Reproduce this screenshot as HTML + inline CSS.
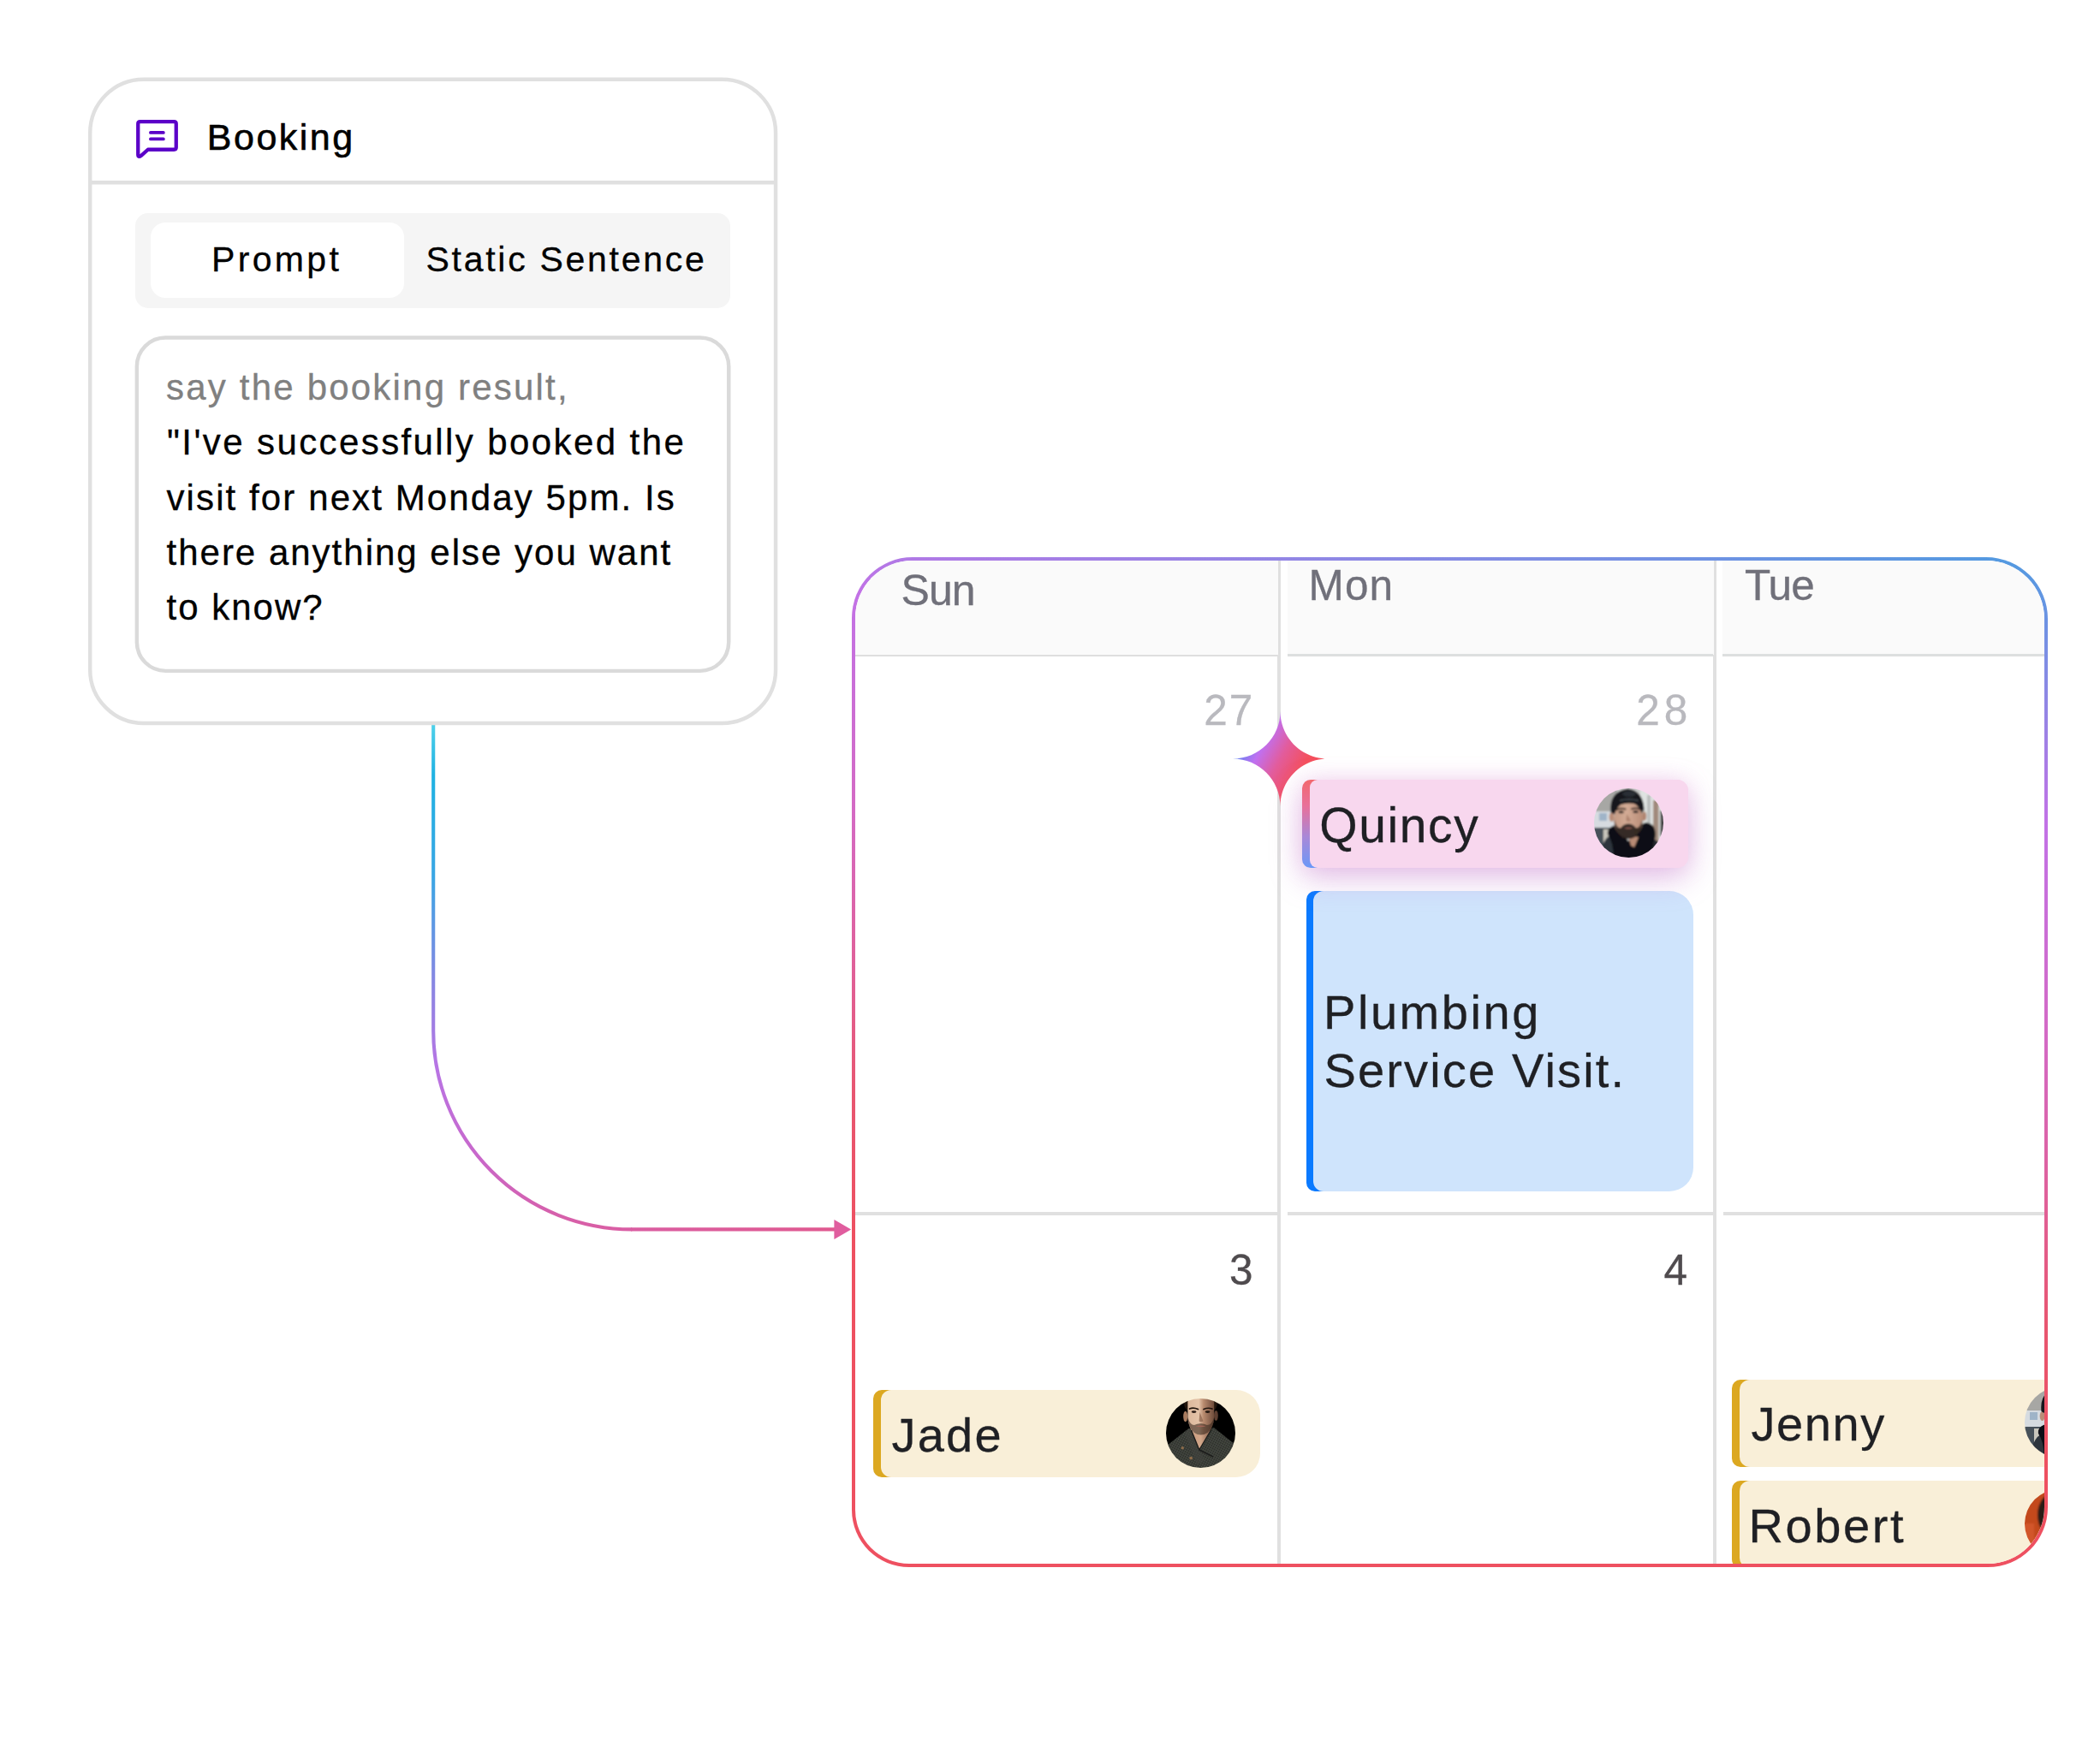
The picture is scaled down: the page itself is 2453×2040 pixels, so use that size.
<!DOCTYPE html><html><head><meta charset='utf-8'><title>Booking</title><style>
*{box-sizing:border-box;margin:0;padding:0}
html,body{width:2453px;height:2040px;background:#fff;overflow:hidden}
body{position:relative;font-family:'Liberation Sans', sans-serif}
.t{position:absolute;white-space:nowrap;-webkit-text-stroke:.3px currentColor}
.a{position:absolute}
.tabs{left:158px;top:248.5px;width:695px;height:111.5px;border-radius:15px;background:#f5f5f5}
.tab{left:175.7px;top:260px;width:296.3px;height:88px;border-radius:17px;background:#fff}
.cal{left:995px;top:651px;width:1397px;height:1180px;border-radius:71px 72px 70px 67px;border:4px solid transparent;
 background:linear-gradient(#fff,#fff) padding-box,linear-gradient(191deg,#4f9be0 0%,#7d8ee4 8%,#c272e6 21.5%,#d46ac4 39%,#e06098 52%,#e85670 62%,#ee5060 74%,#ee5060 100%) border-box;overflow:hidden}
.hd{background:#fafafa;top:0;height:110px}
.ln{background:#e0e0e0}
.vd{background:#e0e0e0;top:0;height:1180px;width:4px}
.ev>b{position:absolute;left:0;top:0;bottom:0;width:24px;border-radius:10px 0 0 10px}
.ev>i{position:absolute;left:8.6px;top:0;right:0;bottom:0;border-radius:12px 28px 28px 12px}
.gold>b{background:#dca821}.gold>i{background:#f9efd8}
.av{position:absolute;width:81.5px;height:81.5px;border-radius:50%;overflow:hidden}
</style></head><body>
<svg class="a" style="left:0;top:0" width="2453" height="2040" viewBox="0 0 2453 2040">
<defs><linearGradient id="cg" gradientUnits="userSpaceOnUse" x1="506" y1="847" x2="506" y2="1436">
<stop offset="0" stop-color="#4fd0ea"/><stop offset="0.1" stop-color="#1fb2e2"/><stop offset="0.3" stop-color="#3aa6e4"/><stop offset="0.5" stop-color="#8488e2"/><stop offset="0.68" stop-color="#b874e4"/><stop offset="0.85" stop-color="#c868cc"/><stop offset="1" stop-color="#d95ea4"/></linearGradient>
<linearGradient id="cg2" gradientUnits="userSpaceOnUse" x1="700" y1="0" x2="994" y2="0"><stop offset="0" stop-color="#d95ea4"/><stop offset="1" stop-color="#e0588e"/></linearGradient></defs>
<path d="M506.2 845 V1204 A232 232 0 0 0 738.2 1436.4" fill="none" stroke="url(#cg)" stroke-width="4.1"/>
<path d="M737 1436.4 H976" fill="none" stroke="url(#cg2)" stroke-width="4.1"/>
<path d="M974.4 1424.9 L994.2 1436.5 L974.4 1448.1 Z" fill="#e05d9e"/>
</svg>
<svg class="a" style="left:0;top:0" width="1000" height="900" viewBox="0 0 1000 900">
<rect x="105.23" y="92.73" width="800.84" height="752.24" rx="62.5" fill="#fff" stroke="#e0e0e0" stroke-width="4.45"/>
<path d="M105.2 213.3 H906" stroke="#e0e0e0" stroke-width="4.45"/>
<rect x="159.85" y="394.55" width="691.4" height="389.3" rx="33.5" fill="#fff" stroke="#dadada" stroke-width="4.45"/>
</svg>
<svg class="a" style="left:157px;top:138px" width="53" height="49" viewBox="0 0 53 49">
<path d="M6.75 4.05 H46.25 Q48.75 4.05 48.75 6.55 V34.25 Q48.75 36.75 46.25 36.75 H15.8 L7.9 43.8 Q4.25 46.6 4.25 42.4 V6.55 Q4.25 4.05 6.75 4.05 Z" fill="none" stroke="#5b00c8" stroke-width="4.3" stroke-linejoin="round"/>
<path d="M18.9 16.9 H33.9 M18.9 24.4 H33.9" stroke="#5b00c8" stroke-width="3.7" stroke-linecap="round"/></svg>
<div class="t" style="left:241.8px;top:139.40px;font-size:43px;line-height:43px;color:#000;letter-spacing:2.5px;font-weight:500;-webkit-text-stroke:0.6px #000;">Booking</div>
<div class="a tabs"></div><div class="a tab"></div>
<div class="t" style="left:247px;top:282.69px;font-size:41px;line-height:41px;color:#000;letter-spacing:3.35px;font-weight:400;">Prompt</div>
<div class="t" style="left:497.5px;top:282.89px;font-size:41px;line-height:41px;color:#000;letter-spacing:2.72px;font-weight:400;">Static Sentence</div>
<div class="t" style="left:194px;top:432.25px;font-size:42px;line-height:42px;color:#808080;letter-spacing:2.2px;font-weight:400;">say the booking result,</div>
<div class="t" style="left:195px;top:496.45px;font-size:42px;line-height:42px;color:#000;letter-spacing:2.4px;font-weight:400;">&quot;I've successfully booked the</div>
<div class="t" style="left:194.5px;top:560.65px;font-size:42px;line-height:42px;color:#000;letter-spacing:2.1px;font-weight:400;">visit for next Monday 5pm. Is</div>
<div class="t" style="left:194.5px;top:624.85px;font-size:42px;line-height:42px;color:#000;letter-spacing:2.0px;font-weight:400;">there anything else you want</div>
<div class="t" style="left:194.5px;top:689.05px;font-size:42px;line-height:42px;color:#000;letter-spacing:2.0px;font-weight:400;">to know?</div>
<div class="a cal">
<div class="a hd" style="left:0;width:494px"></div>
<div class="a hd" style="left:505px;width:497px"></div>
<div class="a hd" style="left:1013px;width:400px"></div>
<div class="a ln" style="left:0;top:110px;width:493px;height:2px;background:#dedede"></div>
<div class="a ln" style="left:505px;top:109px;width:497px;height:3px;background:#dddfdf"></div>
<div class="a ln" style="left:1013px;top:109px;width:400px;height:3px;background:#dddfdf"></div>
<div class="a ln" style="left:0;top:761px;width:493px;height:4px"></div>
<div class="a ln" style="left:505px;top:761px;width:497px;height:4px"></div>
<div class="a ln" style="left:1014px;top:761px;width:400px;height:4px"></div>
<div class="a vd" style="left:493px"></div><div class="a vd" style="left:1002px"></div>
<div class="a" style="left:493px;top:0;width:1px;height:110px;background:#fafafa"></div><div class="a" style="left:1002px;top:0;width:1px;height:110px;background:#fafafa"></div>
<div class="t" style="left:53.5px;top:9.88px;font-size:50px;line-height:50px;color:#70707a;letter-spacing:-0.95px;font-weight:400;">Sun</div>
<div class="t" style="left:529.5px;top:4.40px;font-size:49.5px;line-height:49.5px;color:#70707a;letter-spacing:1.15px;font-weight:400;">Mon</div>
<div class="t" style="left:1039px;top:4.30px;font-size:49.5px;line-height:49.5px;color:#70707a;letter-spacing:-0.9px;font-weight:400;">Tue</div>
<div class="t" style="right:922.8px;top:150.40px;font-size:49.5px;line-height:49.5px;color:#b9b9be;letter-spacing:2px;font-weight:400;">27</div>
<div class="t" style="right:411.6px;top:150.30px;font-size:49.5px;line-height:49.5px;color:#b9b9be;letter-spacing:5px;font-weight:400;">28</div>
<div class="t" style="right:924.6px;top:803.80px;font-size:49.5px;line-height:49.5px;color:#4f4b4e;letter-spacing:0px;font-weight:400;">3</div>
<div class="t" style="right:417.1px;top:803.90px;font-size:49.5px;line-height:49.5px;color:#4f4b4e;letter-spacing:0px;font-weight:400;">4</div>
<svg class="a" style="left:441.4px;top:175.5px" width="111" height="111" viewBox="-55.5 -55.5 111 111">
<defs><linearGradient id="sg" gradientUnits="userSpaceOnUse" x1="-55" y1="-30" x2="55" y2="30">
<stop offset="0.08" stop-color="#4688f2"/><stop offset="0.3" stop-color="#c070f0"/><stop offset="0.5" stop-color="#e25c9c"/><stop offset="0.72" stop-color="#f4505e"/><stop offset="1" stop-color="#f5505a"/></linearGradient></defs>
<path d="M0 -55.5 C0 -24.85 24.85 0 55.5 0 C24.85 0 0 24.85 0 55.5 C0 24.85 -24.85 0 -55.5 0 C-24.85 0 0 -24.85 0 -55.5 Z" fill="url(#sg)"/></svg>
<div class="a ev" style="left:526.8px;top:386.3px;width:451.79999999999995px;height:351.0px;"><b style="background:#0a7aff"></b><i style="background:#cfe4fc"></i></div>
<div class="t" style="left:547px;top:499.60px;font-size:56px;line-height:56px;color:#1f2024;letter-spacing:2.55px;font-weight:400;">Plumbing</div>
<div class="t" style="left:547.5px;top:567.60px;font-size:56px;line-height:56px;color:#1f2024;letter-spacing:2.15px;font-weight:400;">Service Visit.</div>
<div class="a" style="left:521.6px;top:256px;width:451.4000000000001px;height:102.70000000000005px;border-radius:10px 13px 13px 10px;
background:#f8d7ee;box-shadow:0 12px 36px rgba(186,108,200,.40),0 0 26px rgba(236,170,220,.28),0 0 8px rgba(255,255,255,.9)">
<div class="a" style="left:0;top:0;width:22px;height:100%;border-radius:10px 0 0 10px;background:linear-gradient(180deg,#f2686e 0%,#e8709a 30%,#a888d8 65%,#6a98f8 100%)"></div>
<div class="a" style="left:9.4px;top:0;right:0;height:100%;border-radius:9px 13px 13px 9px;background:#f8d7ee"></div></div>
<div class="t" style="left:542.3px;top:281.05px;font-size:57px;line-height:57px;color:#1f2024;letter-spacing:1.6px;font-weight:400;">Quincy</div>
<div class="av" style="left:862.9px;top:265.6px"><svg width="81.5" height="81.5" viewBox="0 0 81.5 81.5" style="display:block">
<defs><filter id="bq" x="-5%" y="-5%" width="110%" height="110%"><feGaussianBlur stdDeviation="1.05"/></filter>
<linearGradient id="fq" x1="0" x2="1" y1="0" y2="0"><stop offset="0" stop-color="#c39a84"/><stop offset="0.45" stop-color="#d3ab95"/><stop offset="1" stop-color="#b98d78"/></linearGradient></defs>
<g filter="url(#bq)">
<rect x="-3" y="-3" width="88" height="88" fill="#c9cbca"/>
<rect x="-3" y="-3" width="30" height="34" fill="#a7a7a4"/>
<rect x="-3" y="27" width="30" height="22" fill="#d6dbe0"/>
<rect x="6" y="29" width="9" height="9" fill="#9fb4c8"/>
<rect x="-3" y="46" width="30" height="40" fill="#46515a"/>
<rect x="11" y="48" width="6" height="22" fill="#c9c6bc"/>
<rect x="54" y="-3" width="32" height="90" fill="#dfe3e1"/>
<rect x="62" y="8" width="4" height="60" fill="#b9bcbc"/>
<rect x="69" y="14" width="6.5" height="60" fill="#a08a7b"/>
<rect x="77.5" y="26" width="6" height="30" fill="#3f3f41"/>
<path d="M6 86 L10 66 Q14 56 24 52 L30 86 Z" fill="#2d353c"/>
<path d="M82 86 L80 68 Q72 58 62 56 L54 86 Z" fill="#262c32"/>
<path d="M16 54 Q15 47 22 44 Q27 42 30 46 L40 62 L52 50 Q55 40 61 40 Q69 41 71 48 Q73 56 70 62 L66 86 L22 86 Q24 66 16 54 Z" fill="#0f1113"/>
<path d="M40 55 L52 57 L47 69 L43 67 Z" fill="#b88a74"/>
<ellipse cx="20.6" cy="33.5" rx="2.9" ry="5.6" fill="#b98c77"/><ellipse cx="58.6" cy="32.5" rx="2.6" ry="5.6" fill="#b0846f"/>
<ellipse cx="39.2" cy="22" rx="19" ry="15" fill="#17191b"/>
<ellipse cx="40" cy="37" rx="16.9" ry="21" fill="url(#fq)"/>
<path d="M23.6 36 Q24 52 33 57.5 Q40 61 47 57.5 Q56 52 56.6 36 Q54.5 46 49 46.5 Q45.5 41.6 40 41.6 Q34.5 41.6 31 46.5 Q25.5 46 23.6 36 Z" fill="#2a201d" opacity=".93"/>
<path d="M35 46.5 Q40 44.8 45.5 46.5 Q40 48.3 35 46.5 Z" fill="#8d5c52"/>
<path d="M38.3 30 L37.4 38 Q40 39.5 43 38 Z" fill="#a67a66" opacity=".8"/>
<path d="M26.5 25 Q31 22.6 36.5 24.4 M44 24.2 Q49 22.4 54 24.6" stroke="#2a1f1b" stroke-width="1.9" fill="none" stroke-linecap="round"/>
<ellipse cx="31.6" cy="27.8" rx="3.1" ry="1.5" fill="#2b2321"/><ellipse cx="48.6" cy="27.4" rx="3.1" ry="1.5" fill="#2b2321"/>
<path d="M19.5 28 Q17 4 39 0.4 Q58 2 58.6 27 Q56 21 49 18.6 Q40 16.2 31 19 Q24 22 22.5 30 L19.5 28 Z" fill="#14171a"/>
<path d="M30 14.5 Q40 11.5 52 14.5" stroke="#3a4047" stroke-width="2.2" fill="none"/>
<ellipse cx="41" cy="6.5" rx="8" ry="3.6" fill="#2a2f35"/>
</g></svg></div>
<div class="a ev gold" style="left:21.4px;top:969.2px;width:451.6px;height:101.79999999999995px"><b></b><i></i></div>
<div class="t" style="left:42.5px;top:994.00px;font-size:56px;line-height:56px;color:#1f2024;letter-spacing:2.2px;font-weight:400;">Jade</div>
<div class="av" style="left:362.7px;top:978.8px"><svg width="81.5" height="81.5" viewBox="0 0 81.5 81.5" style="display:block">
<defs><filter id="bj" x="-5%" y="-5%" width="110%" height="110%"><feGaussianBlur stdDeviation="0.7"/></filter>
<linearGradient id="fj" x1="0" x2="1" y1="0" y2="0"><stop offset="0" stop-color="#dcb89c"/><stop offset="0.42" stop-color="#e4c3a8"/><stop offset="0.6" stop-color="#b88a6e"/><stop offset="1" stop-color="#6e4c3b"/></linearGradient>
<linearGradient id="nj" x1="0" x2="1" y1="0" y2="0"><stop offset="0" stop-color="#c79a7e"/><stop offset="0.5" stop-color="#d2a78a"/><stop offset="1" stop-color="#7a5442"/></linearGradient>
<pattern id="kn" width="2.6" height="2.6" patternUnits="userSpaceOnUse" patternTransform="rotate(28)"><rect width="2.6" height="2.6" fill="#2f322d"/><circle cx="1.3" cy="1.3" r=".8" fill="#53564e"/></pattern></defs>
<g filter="url(#bj)">
<rect x="-3" y="-3" width="88" height="88" fill="#050505"/>
<ellipse cx="40.5" cy="5" rx="19.5" ry="15" fill="#24150e"/>
<ellipse cx="22.7" cy="21" rx="2.5" ry="6.2" fill="#a97b5e"/><ellipse cx="58.4" cy="20" rx="2.4" ry="6" fill="#5e3f31"/>
<path d="M28 33 L53.5 32 L49 47 L38.8 60 L32.5 48 Z" fill="url(#nj)"/>
<path d="M25.4 -5 L25.4 22 Q26 34 33 40 Q40.6 45.2 48.4 40 Q55.6 34 56.2 22 L56.2 -5 Z" fill="url(#fj)"/>
<path d="M25.4 22 Q26 34 33 40 Q40.6 45.2 48.4 40 Q55.6 34 56.2 22 Q53.5 31 48 31 Q44 29 40.6 29.2 Q37 29 33 31 Q28 31 25.4 22 Z" fill="#3b2a20" opacity=".6"/>
<path d="M34.5 32.2 Q40.5 30.8 46.5 32.2 Q40.5 34.4 34.5 32.2 Z" fill="#a56659"/>
<path d="M39.4 16 L38.6 26.5 Q41 27.8 43.6 26.4 Z" fill="#8a614c" opacity=".7"/>
<path d="M27.5 12 Q32 10 37.5 12.6 M44 12.6 Q49 10.2 54 12" stroke="#24160f" stroke-width="1.7" fill="none" stroke-linecap="round"/>
<ellipse cx="32.6" cy="15.6" rx="2.9" ry="1.3" fill="#2a1c16"/><ellipse cx="48.6" cy="15.6" rx="2.9" ry="1.3" fill="#21150f"/>
<path d="M-3 86 L-3 58 L2.7 53.8 L26.2 35.2 Q28.5 34.5 29.5 37 L38.8 60 L52.5 37 Q53.5 33.6 55.8 34 L78.5 52 L85 57 L85 86 Z" fill="url(#kn)"/>
<path d="M26.2 35.2 Q28.5 34.5 29.5 37 L38.8 60 L46 72 L36 78 Q30 60 22 41 Z" fill="#41443e" opacity=".55"/>
<path d="M38.8 60 L55 68 M29.5 37 L38.8 60 L52.5 37" stroke="#1c1e1b" stroke-width="1.4" fill="none"/>
<circle cx="19.3" cy="57.8" r="1.7" fill="#8b6b49"/><circle cx="29.2" cy="69.6" r="1.9" fill="#8b6b49"/>
</g></svg></div>
<div class="a ev gold" style="left:1024.3px;top:957px;width:452px;height:102px"><b></b><i></i></div>
<div class="t" style="left:1046.5px;top:981.10px;font-size:56px;line-height:56px;color:#1f2024;letter-spacing:1.6px;font-weight:400;">Jenny</div>
<div class="av" style="left:1366.2px;top:966.2px"><svg width="81.5" height="81.5" viewBox="0 0 81.5 81.5" style="display:block">
<defs><filter id="bj" x="-5%" y="-5%" width="110%" height="110%"><feGaussianBlur stdDeviation="1.05"/></filter>
<linearGradient id="fj" x1="0" x2="1" y1="0" y2="0"><stop offset="0" stop-color="#c39a84"/><stop offset="0.45" stop-color="#d3ab95"/><stop offset="1" stop-color="#b98d78"/></linearGradient></defs>
<g filter="url(#bj)">
<rect x="-3" y="-3" width="88" height="88" fill="#c9cbca"/>
<rect x="-3" y="-3" width="30" height="34" fill="#a7a7a4"/>
<rect x="-3" y="27" width="30" height="22" fill="#d6dbe0"/>
<rect x="6" y="29" width="9" height="9" fill="#9fb4c8"/>
<rect x="-3" y="46" width="30" height="40" fill="#46515a"/>
<rect x="11" y="48" width="6" height="22" fill="#c9c6bc"/>
<rect x="54" y="-3" width="32" height="90" fill="#dfe3e1"/>
<rect x="62" y="8" width="4" height="60" fill="#b9bcbc"/>
<rect x="69" y="14" width="6.5" height="60" fill="#a08a7b"/>
<rect x="77.5" y="26" width="6" height="30" fill="#3f3f41"/>
<path d="M6 86 L10 66 Q14 56 24 52 L30 86 Z" fill="#2d353c"/>
<path d="M82 86 L80 68 Q72 58 62 56 L54 86 Z" fill="#262c32"/>
<path d="M16 54 Q15 47 22 44 Q27 42 30 46 L40 62 L52 50 Q55 40 61 40 Q69 41 71 48 Q73 56 70 62 L66 86 L22 86 Q24 66 16 54 Z" fill="#0f1113"/>
<path d="M40 55 L52 57 L47 69 L43 67 Z" fill="#b88a74"/>
<ellipse cx="20.6" cy="33.5" rx="2.9" ry="5.6" fill="#b98c77"/><ellipse cx="58.6" cy="32.5" rx="2.6" ry="5.6" fill="#b0846f"/>
<ellipse cx="39.2" cy="22" rx="19" ry="15" fill="#17191b"/>
<ellipse cx="40" cy="37" rx="16.9" ry="21" fill="url(#fj)"/>
<path d="M23.6 36 Q24 52 33 57.5 Q40 61 47 57.5 Q56 52 56.6 36 Q54.5 46 49 46.5 Q45.5 41.6 40 41.6 Q34.5 41.6 31 46.5 Q25.5 46 23.6 36 Z" fill="#2a201d" opacity=".93"/>
<path d="M35 46.5 Q40 44.8 45.5 46.5 Q40 48.3 35 46.5 Z" fill="#8d5c52"/>
<path d="M38.3 30 L37.4 38 Q40 39.5 43 38 Z" fill="#a67a66" opacity=".8"/>
<path d="M26.5 25 Q31 22.6 36.5 24.4 M44 24.2 Q49 22.4 54 24.6" stroke="#2a1f1b" stroke-width="1.9" fill="none" stroke-linecap="round"/>
<ellipse cx="31.6" cy="27.8" rx="3.1" ry="1.5" fill="#2b2321"/><ellipse cx="48.6" cy="27.4" rx="3.1" ry="1.5" fill="#2b2321"/>
<path d="M19.5 28 Q17 4 39 0.4 Q58 2 58.6 27 Q56 21 49 18.6 Q40 16.2 31 19 Q24 22 22.5 30 L19.5 28 Z" fill="#14171a"/>
<path d="M30 14.5 Q40 11.5 52 14.5" stroke="#3a4047" stroke-width="2.2" fill="none"/>
<ellipse cx="41" cy="6.5" rx="8" ry="3.6" fill="#2a2f35"/>
</g></svg></div>
<div class="a ev gold" style="left:1024.3px;top:1075px;width:452px;height:102px"><b></b><i></i></div>
<div class="t" style="left:1043.5px;top:1099.60px;font-size:56px;line-height:56px;color:#1f2024;letter-spacing:2.6px;font-weight:400;">Robert</div>
<div class="av" style="left:1366.2px;top:1084.5px"><svg width="81.5" height="81.5" viewBox="0 0 81.5 81.5" style="display:block">
<defs><filter id="br"><feGaussianBlur stdDeviation="0.8"/></filter></defs>
<g filter="url(#br)"><rect x="-3" y="-3" width="88" height="88" fill="#c3491f"/>
<rect x="-3" y="40" width="14" height="50" fill="#d2562a"/>
<ellipse cx="34" cy="30" rx="19" ry="26" fill="#2a1c14"/>
<ellipse cx="36" cy="42" rx="13" ry="17" fill="#c88e68"/>
<path d="M8 86 Q14 62 30 60 L60 86 Z" fill="#b03c1a"/></g></svg></div>
</div>
</body></html>
